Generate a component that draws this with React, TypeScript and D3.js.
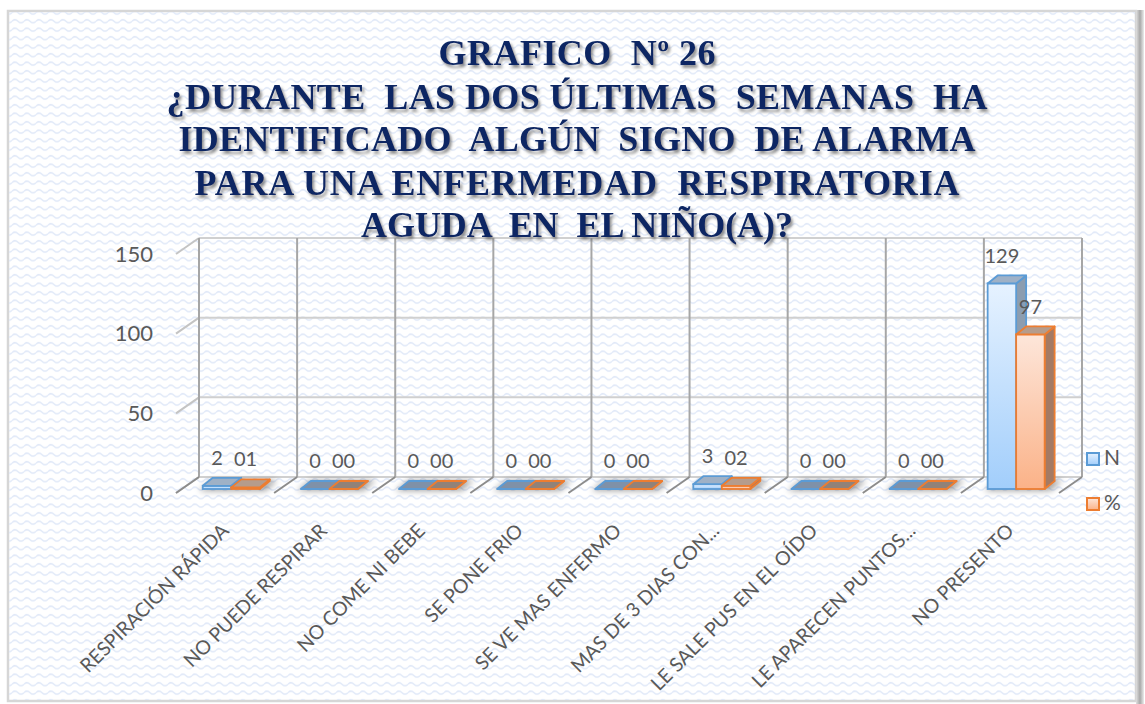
import React from "react";
import * as d3 from "d3";

const categories = [
  "RESPIRACIÓN RÁPIDA",
  "NO PUEDE RESPIRAR",
  "NO COME NI BEBE",
  "SE PONE FRIO",
  "SE VE MAS ENFERMO",
  "MAS DE 3 DIAS CON...",
  "LE SALE PUS EN EL OÍDO",
  "LE APARECEN PUNTOS...",
  "NO PRESENTO",
];
const seriesNames = ["N", "%"];
const valuesN = [2, 0, 0, 0, 0, 3, 0, 0, 129];
const valuesPct = [1, 0, 0, 0, 0, 2, 0, 0, 97];
const yTicks = [0, 50, 100, 150];
const titleLines = [
  "GRAFICO  Nº 26",
  "¿DURANTE  LAS DOS ÚLTIMAS  SEMANAS  HA",
  "IDENTIFICADO  ALGÚN  SIGNO  DE ALARMA",
  "PARA UNA ENFERMEDAD  RESPIRATORIA",
  "AGUDA  EN  EL NIÑO(A)?",
];
const titleWidths = [277, 821, 797, 765, 432];

const W = 1145;
const H = 704;
const BACK_LEFT = 199;
const BACK_RIGHT = 1082;
const BACK_TOP = 238;
const BACK_BOTTOM = 477;
const DX = -23;
const DY = 16;
const BAR_F = 0.75;
const BDX = 10;
const BDY = -8;

const GRAY_TEXT = "#595959";
const FONT = "Lato, 'Open Sans', sans-serif";
const SERIF = "Liberation Serif, DejaVu Serif, Noto Serif, serif";

const seriesStyle = [
  { stroke: "#5b9bd5", side: "#8c9db0", topFace: "#9fb1c6", grad: "gBlue" },
  { stroke: "#ed7d31", side: "#a47a64", topFace: "#b59c8c", grad: "gOrange" },
];

export default function App() {
  const x = d3.scaleBand<string>().domain(categories).range([BACK_LEFT, BACK_RIGHT]);
  const bw = x.bandwidth();
  const y = d3.scaleLinear().domain([0, 150]).range([BACK_BOTTOM, BACK_TOP]);
  const inner = d3.scaleBand<string>().domain(seriesNames).range([21, 78]);
  const series = [
    { name: "N", values: valuesN, fmt: d3.format("d") },
    { name: "%", values: valuesPct, fmt: d3.format("02d") },
  ];
  const bdx = DX * BAR_F;
  const bdy = DY * BAR_F;
  const pts = (p: number[][]) => p.map((q) => q.join(",")).join(" ");

  return (
    <svg
      width={W}
      height={H}
      style={{ position: "absolute", left: 0, top: 0 }}
      xmlns="http://www.w3.org/2000/svg"
    >
      <defs>
        <pattern id="wave" width="12" height="8.5" patternUnits="userSpaceOnUse">
          <path d="M0 4.2 Q3 1.2 6 4.2 T12 4.2" fill="none" stroke="#dfe8f8" strokeWidth="1.4" />
        </pattern>
        <linearGradient id="gBlue" x1="0" y1="0" x2="0" y2="1">
          <stop offset="0" stopColor="#e6f2ff" />
          <stop offset="1" stopColor="#a2cefb" />
        </linearGradient>
        <linearGradient id="gOrange" x1="0" y1="0" x2="0" y2="1">
          <stop offset="0" stopColor="#fde6da" />
          <stop offset="1" stopColor="#fbb288" />
        </linearGradient>
        <linearGradient id="rshadow" x1="0" y1="0" x2="1" y2="0">
          <stop offset="0" stopColor="#e0e0e0" />
          <stop offset="0.5" stopColor="#a8a8a8" />
          <stop offset="1" stopColor="#ececec" />
        </linearGradient>
        <filter id="tshadow" x="-5%" y="-20%" width="110%" height="160%">
          <feDropShadow dx="2" dy="3" stdDeviation="1.6" floodColor="#5f5f5f" floodOpacity="0.7" />
        </filter>
        <filter id="blur3" x="-30%" y="-100%" width="160%" height="300%">
          <feGaussianBlur stdDeviation="3" />
        </filter>
      </defs>

      {/* frame */}
      <rect x={0} y={0} width={W} height={H} fill="#ffffff" />
      <rect x={8} y={11} width={1128} height={690} fill="#ffffff" stroke="#d6d6d6" strokeWidth={2.5} />
      <rect x={9} y={12} width={1126} height={688} fill="url(#wave)" />
      <rect x={1136} y={10} width={8} height={694} fill="url(#rshadow)" />

      {/* back wall gridlines */}
      {yTicks.map((t) => (
        <g key={"h" + t}>
          <line x1={BACK_LEFT} x2={BACK_RIGHT} y1={y(t)} y2={y(t)} stroke="#d0d0d0" strokeWidth={2} />
          <line x1={BACK_LEFT} x2={BACK_LEFT + DX} y1={y(t)} y2={y(t) + DY} stroke="#c4c4c4" strokeWidth={2} />
        </g>
      ))}
      {[...categories.map((c) => x(c) as number), BACK_RIGHT].map((bx, i) => (
        <g key={"v" + i}>
          <line x1={bx} x2={bx} y1={BACK_TOP} y2={BACK_BOTTOM} stroke="#a6a6a6" strokeWidth={2} />
          <line x1={bx} x2={bx + DX} y1={BACK_BOTTOM} y2={BACK_BOTTOM + DY} stroke="#8c8c8c" strokeWidth={2} />
        </g>
      ))}

      {/* y axis labels */}
      {yTicks.map((t) => (
        <text
          key={"yl" + t}
          x={153}
          y={y(t) + DY + 2}
          textAnchor="end"
          dominantBaseline="middle"
          fontFamily={FONT}
          fontSize={22}
          fill={GRAY_TEXT}
        >
          {t}
        </text>
      ))}

      {/* bars */}
      {categories.map((c, ci) => {
        const bx = (x(c) as number) + bdx;
        const yb = y(0) + bdy;
        const xs0 = bx + (inner("N") as number);
        const xs1 = bx + (inner("%") as number) + inner.bandwidth();
        return (
          <g key={"cat" + ci}>
            <polygon
              points={pts([
                [xs0 - 4, yb + 2],
                [xs1 + 6, yb + 2],
                [xs1 + BDX + 8, yb + BDY - 1],
                [xs0 + BDX, yb + BDY - 1],
              ])}
              fill="#000"
              opacity={0.35}
              filter="url(#blur3)"
            />
            {series.map((s, si) => {
              const st = seriesStyle[si];
              const x0 = bx + (inner(s.name) as number);
              const x1 = x0 + inner.bandwidth();
              const yt = y(s.values[ci]) + bdy;
              return (
                <g key={s.name}>
                  <polygon
                    points={pts([
                      [x1, yt],
                      [x1 + BDX, yt + BDY],
                      [x1 + BDX, yb + BDY],
                      [x1, yb],
                    ])}
                    fill={st.side}
                    stroke={st.stroke}
                    strokeWidth={1.8}
                    strokeLinejoin="round"
                  />
                  <rect
                    x={x0}
                    y={yt}
                    width={x1 - x0}
                    height={Math.max(0, yb - yt)}
                    fill={`url(#${st.grad})`}
                    stroke={st.stroke}
                    strokeWidth={1.8}
                  />
                  <polygon
                    points={pts([
                      [x0, yt],
                      [x0 + BDX, yt + BDY],
                      [x1 + BDX, yt + BDY],
                      [x1, yt],
                    ])}
                    fill={s.values[ci] === 0 ? (si === 0 ? "#7f91a8" : "#918279") : st.topFace}
                    stroke={st.stroke}
                    strokeWidth={1.8}
                    strokeLinejoin="round"
                  />
                </g>
              );
            })}
          </g>
        );
      })}

      {/* data labels */}
      {categories.map((c, ci) =>
        series.map((s) => {
          const bx = (x(c) as number) + bdx;
          const x0 = bx + (inner(s.name) as number);
          const yt = y(s.values[ci]) + bdy;
          return (
            <text
              key={"dl" + ci + s.name}
              x={x0 + inner.bandwidth() / 2}
              y={yt - 26}
              textAnchor="middle"
              dominantBaseline="middle"
              fontFamily={FONT}
              fontSize={20}
              fill={GRAY_TEXT}
            >
              {s.fmt(s.values[ci])}
            </text>
          );
        })
      )}

      {/* x labels */}
      {categories.map((c) => {
        const cx = (x(c) as number) + DX + bw / 2 + 5;
        const cy = 532;
        return (
          <text
            key={"xl" + c}
            x={cx}
            y={cy}
            textAnchor="end"
            transform={`rotate(-45 ${cx} ${cy})`}
            fontFamily={FONT}
            fontSize={19.5}
            fill={GRAY_TEXT}
          >
            {c}
          </text>
        );
      })}

      {/* legend */}
      {seriesNames.map((n, i) => (
        <g key={"lg" + n}>
          <rect
            x={1087}
            y={453 + i * 45}
            width={12}
            height={12}
            fill={`url(#${seriesStyle[i].grad})`}
            stroke={seriesStyle[i].stroke}
            strokeWidth={2}
          />
          <text
            x={1104}
            y={460 + i * 45}
            dominantBaseline="middle"
            fontFamily={FONT}
            fontSize={21}
            fill={GRAY_TEXT}
          >
            {n}
          </text>
        </g>
      ))}

      {/* title */}
      <g filter="url(#tshadow)">
        {titleLines.map((t, i) => (
          <text
            key={"t" + i}
            x={577}
            y={[65, 109, 151, 195, 237][i]}
            textAnchor="middle"
            fontFamily={SERIF}
            fontWeight="bold"
            fontSize={36}
            fill="#0a2663"
            textLength={titleWidths[i]}
            lengthAdjust="spacing"
            style={{ whiteSpace: "pre" }}
          >
            {t}
          </text>
        ))}
      </g>
    </svg>
  );
}
